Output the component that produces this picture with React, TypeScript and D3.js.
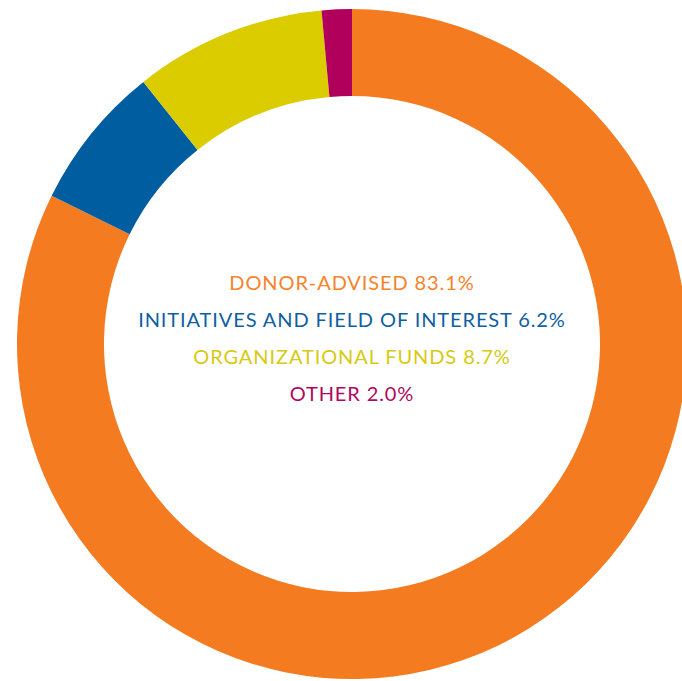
import React, { useEffect, useRef } from "react";
import * as d3 from "d3";

// slice order runs clockwise from 12 o'clock
const categories = ["DONOR-ADVISED", "INITIATIVES AND FIELD OF INTEREST", "ORGANIZATIONAL FUNDS", "OTHER"];
// arc shares as drawn in the picture
const sliceShares = [82.3, 7.0, 9.25, 1.45];
// percentages printed in the centre legend
const labelPcts = ["83.1%", "6.2%", "8.7%", "2.0%"];
const sliceColors = ["#F47B20", "#005DA0", "#DBCC00", "#B1005B"];
const textColors = ["#F5832B", "#0F5FA3", "#D6CA12", "#B0085E"];

const App = () => {
  const svgRef = useRef<SVGSVGElement>(null);

  useEffect(() => {
    const width = 682;
    const height = 681;
    const cx = 352;
    const cy = 344;
    const outerR = 335;
    const innerR = 248;

    const svg = d3.select(svgRef.current)
      .attr("width", width)
      .attr("height", height)
      .attr("viewBox", [0, 0, width, height].join(" "));
    svg.selectAll("*").remove();

    const data = categories.map((c, i) => ({ name: c, value: sliceShares[i], i }));

    const pie = d3.pie<any>().sort(null).value((d) => d.value);
    const arc = d3.arc<any>().innerRadius(innerR).outerRadius(outerR);

    const g = svg.append("g").attr("transform", `translate(${cx},${cy})`);

    g.selectAll("path")
      .data(pie(data))
      .join("path")
      .attr("d", arc)
      .attr("fill", (d) => sliceColors[d.data.i]);

    // centre legend
    const lineGap = 37;
    const firstBaseline = 290;
    svg.append("g")
      .selectAll("text")
      .data(data)
      .join("text")
      .attr("x", cx)
      .attr("y", (d) => firstBaseline + d.i * lineGap)
      .attr("text-anchor", "middle")
      .attr("fill", (d) => textColors[d.i])
      .style("font-family", "Lato, sans-serif")
      .style("font-size", "20px")
      .style("letter-spacing", "0.9px")
      .text((d) => `${d.name} ${labelPcts[d.i]}`);
  }, []);

  return (
    <div style={{ position: "absolute", left: 0, top: 0, background: "#fff" }}>
      <svg ref={svgRef}></svg>
    </div>
  );
};

export default App;
